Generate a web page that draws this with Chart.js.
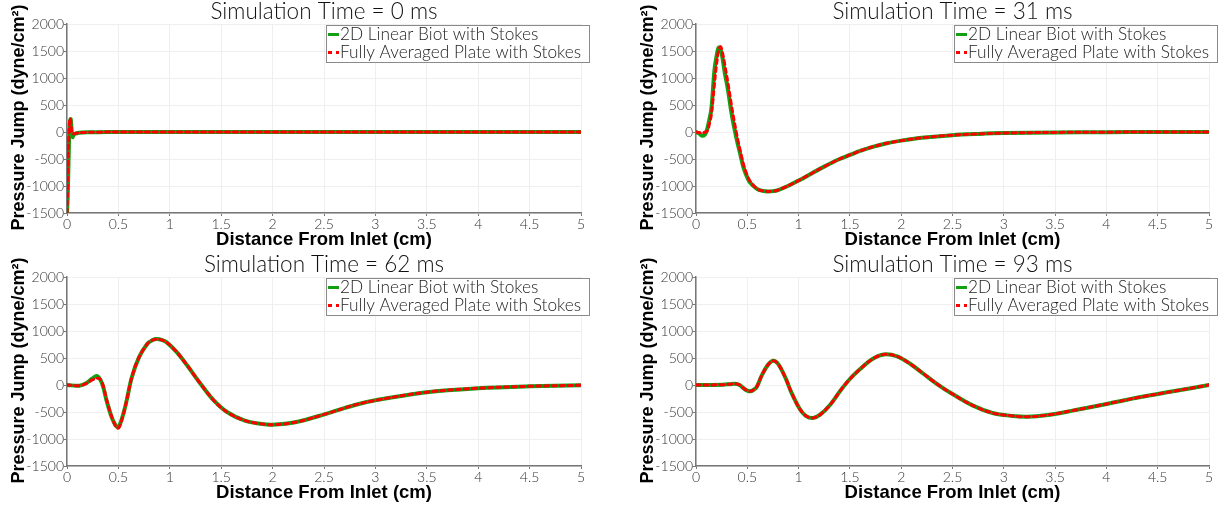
<!DOCTYPE html>
<html>
<head>
<meta charset="utf-8">
<script src="https://cdn.jsdelivr.net/npm/chart.js@4.4.1/dist/chart.umd.min.js"></script>
<style>
  body { margin: 0; background: #fff; }
  #wrap { position: relative; width: 1220px; height: 506px; overflow: hidden; }
  .panel { position: absolute; }
  canvas { display: block; }
</style>
</head>
<body>
<div id="wrap">
  <div class="panel" style="left:0;top:0"><canvas id="c0" width="629" height="253"></canvas></div>
  <div class="panel" style="left:629px;top:0"><canvas id="c1" width="591" height="253"></canvas></div>
  <div class="panel" style="left:0;top:253px"><canvas id="c2" width="629" height="253"></canvas></div>
  <div class="panel" style="left:629px;top:253px"><canvas id="c3" width="591" height="253"></canvas></div>
</div>
<script>
// distance from inlet (cm) and pressure jump (dyne/cm^2)

// t = 0 ms
const dist0 = [0, 0.006, 0.012, 0.018, 0.024, 0.03, 0.036, 0.042, 0.048, 0.054, 0.06, 0.07, 0.08, 0.1, 0.12, 0.15, 0.2, 0.3, 0.5, 1, 2, 3, 4, 5];
const biot0 = [-1500, -1250, -800, -300, 60, 200, 240, 120, -40, -95, -70, -40, -30, -22, -15, -10, -6, -3, -1, 0, 0, 0, 0, 0];
const plate0 = [-1500, -1000, -450, -50, 180, 255, 200, 60, -20, -35, -40, -35, -28, -20, -14, -10, -6, -3, -1, 0, 0, 0, 0, 0];

// t = 31 ms
const dist31 = [0, 0.03, 0.065, 0.09, 0.11, 0.13, 0.15, 0.18, 0.2, 0.22, 0.24, 0.26, 0.28, 0.31, 0.34, 0.36, 0.39, 0.41, 0.44, 0.46, 0.49, 0.52, 0.56, 0.6, 0.65, 0.7, 0.75, 0.8, 0.9, 1.0, 1.1, 1.24, 1.4, 1.5, 1.6, 1.73, 1.85, 2.0, 2.2, 2.5, 2.75, 3.0, 3.5, 4, 4.5, 5];
const biot31 = [0, -30, -70, -40, 60, 230, 430, 1150, 1400, 1560, 1520, 1350, 1100, 800, 420, 200, -80, -245, -480, -640, -800, -920, -1000, -1060, -1090, -1100, -1095, -1075, -995, -900, -795, -650, -500, -425, -350, -270, -212, -160, -108, -58, -35, -20, -8, -3, -1, 0];
const plate31 = [0, -10, -20, 0, 20, 150, 330, 900, 1250, 1500, 1580, 1450, 1250, 920, 560, 330, 20, -170, -420, -580, -760, -890, -990, -1060, -1090, -1100, -1095, -1075, -995, -900, -795, -650, -500, -425, -350, -270, -212, -160, -108, -58, -35, -20, -8, -3, -1, 0];

// t = 62 ms
const dist62 = [0, 0.12, 0.19, 0.24, 0.29, 0.32, 0.35, 0.385, 0.435, 0.47, 0.49, 0.51, 0.55, 0.58, 0.63, 0.7, 0.78, 0.83, 0.875, 0.92, 0.97, 1.07, 1.17, 1.3, 1.43, 1.56, 1.73, 1.89, 2.0, 2.22, 2.51, 2.8, 3.0, 3.5, 4.0, 4.5, 5.0];
const biot62 = [0, -12, 37, 111, 167, 110, -20, -290, -600, -740, -780, -750, -520, -290, 140, 510, 760, 830, 850, 835, 790, 605, 360, 20, -290, -505, -660, -720, -735, -690, -540, -370, -283, -133, -60, -24, -5];
const plate62 = [0, -12, 30, 90, 125, 115, 0, -270, -590, -750, -800, -775, -530, -290, 140, 510, 760, 830, 850, 835, 790, 605, 360, 20, -290, -505, -660, -720, -735, -690, -540, -370, -283, -133, -60, -24, -5];

// t = 93 ms
const dist93 = [0, 0.26, 0.33, 0.38, 0.42, 0.46, 0.5, 0.53, 0.56, 0.59, 0.64, 0.7, 0.75, 0.8, 0.87, 0.93, 1.01, 1.07, 1.14, 1.21, 1.31, 1.405, 1.5, 1.6, 1.72, 1.83, 1.96, 2.09, 2.22, 2.35, 2.5, 2.7, 2.89, 3.09, 3.23, 3.41, 3.67, 4.0, 4.32, 4.65, 5.0];
const biot93 = [0, 5, 15, 25, 5, -55, -105, -117, -90, -43, 173, 370, 450, 390, 140, -140, -440, -570, -610, -550, -360, -110, 111, 296, 481, 565, 530, 389, 204, 18, -167, -382, -518, -574, -588, -561, -475, -352, -228, -117, 0];
const plate93 = [0, 5, 15, 25, 5, -55, -105, -117, -90, -43, 173, 370, 450, 390, 140, -140, -440, -570, -610, -550, -360, -110, 111, 296, 481, 565, 530, 389, 204, 18, -167, -382, -518, -574, -588, -561, -475, -352, -228, -117, 0];

const titles = ['Simulation Time = 0 ms', 'Simulation Time = 31 ms', 'Simulation Time = 62 ms', 'Simulation Time = 93 ms'];
const yTickMin = -1500, yTickMax = 2000, yStep = 500;
const xTickMin = 0, xTickMax = 5, xStep = 0.5;

const panels = [
  [dist0, biot0, plate0],
  [dist31, biot31, plate31],
  [dist62, biot62, plate62],
  [dist93, biot93, plate93]
];

const LIGHT = 'Lato, "Open Sans", sans-serif';
const BOLD = '"Liberation Sans", Arial, sans-serif';

function pts(xs, ys) {
  return xs.map((x, i) => ({ x: x, y: ys[i] }));
}

// title, rotated y title and the boxed legend
const panelText = {
  id: 'panelText',
  afterDraw(chart, args, opts) {
    const { ctx, chartArea } = chart;
    ctx.save();
    ctx.fillStyle = '#111';
    ctx.font = '300 22.5px ' + LIGHT;
    ctx.textAlign = 'center';
    ctx.textBaseline = 'middle';
    ctx.fillText(opts.title, (chartArea.left + chartArea.right) / 2, 12);

    ctx.save();
    ctx.translate(19, (chartArea.top + chartArea.bottom) / 2 - 1);
    ctx.rotate(-Math.PI / 2);
    ctx.fillStyle = '#000';
    ctx.font = 'bold 18px ' + BOLD;
    ctx.fillText('Pressure Jump (dyne/cm²)', 0, 0);
    ctx.restore();

    const bw = 263, bh = 37;
    const bx = chartArea.right + 8 - bw, by = chartArea.top + 1;
    ctx.fillStyle = '#fff';
    ctx.fillRect(bx, by, bw, bh);
    ctx.strokeStyle = '#8a8a8a';
    ctx.lineWidth = 1;
    ctx.strokeRect(bx + 0.5, by + 0.5, bw, bh);
    ctx.font = '300 17.3px ' + LIGHT;
    ctx.textAlign = 'left';
    chart.data.datasets.forEach((ds, i) => {
      const y = by + 9.5 + i * 18;
      ctx.strokeStyle = ds.borderColor;
      ctx.lineWidth = 3;
      ctx.setLineDash(ds.borderDash || []);
      ctx.beginPath();
      ctx.moveTo(bx + 2, y);
      ctx.lineTo(bx + 13, y);
      ctx.stroke();
      ctx.setLineDash([]);
      ctx.fillStyle = '#222';
      ctx.fillText(ds.label, bx + 14, y);
    });
    ctx.restore();
  }
};

panels.forEach((p, i) => {
  const canvas = document.getElementById('c' + i);
  new Chart(canvas.getContext('2d'), {
    type: 'line',
    data: {
      datasets: [
        {
          label: '2D Linear Biot with Stokes',
          data: pts(p[0], p[1]),
          borderColor: '#14a014',
          borderWidth: 4,
          order: 1
        },
        {
          label: 'Fully Averaged Plate with Stokes',
          data: pts(p[0], p[2]),
          borderColor: '#ff0000',
          borderWidth: 3,
          borderDash: [4, 4],
          order: 0
        }
      ]
    },
    options: {
      responsive: false,
      animation: false,
      events: [],
      elements: {
        point: { radius: 0 },
        line: { tension: 0.35, fill: false, borderJoinStyle: 'round', borderCapStyle: 'round' }
      },
      layout: { padding: { left: 0, top: 24, right: canvas.width - 581 + (i % 2), bottom: 0 } },
      plugins: {
        legend: { display: false },
        tooltip: { enabled: false },
        panelText: { title: titles[i] }
      },
      scales: {
        x: {
          type: 'linear',
          min: xTickMin,
          max: xTickMax,
          afterFit: (s) => { s.height = 40; },
          ticks: {
            stepSize: xStep,
            autoSkip: false,
            maxRotation: 0,
            padding: 0,
            color: '#333',
            font: { family: LIGHT, size: 14, weight: 300 },
            callback: (v) => String(v)
          },
          grid: { color: '#efefef', tickColor: '#777', tickLength: 3 },
          border: { color: '#777', width: 1.5 },
          title: {
            display: true,
            text: 'Distance From Inlet (cm)',
            color: '#000',
            font: { family: BOLD, size: 18.5, weight: 'bold' },
            padding: { top: 0, bottom: 2 }
          }
        },
        y: {
          min: yTickMin,
          max: yTickMax,
          afterFit: (s) => { s.width = 67; },
          ticks: {
            stepSize: yStep,
            autoSkip: false,
            padding: 0,
            color: '#333',
            font: { family: LIGHT, size: 14, weight: 300 },
            callback: (v) => String(v)
          },
          grid: { color: '#efefef', tickColor: '#777', tickLength: 3 },
          border: { color: '#777', width: 1.5 }
        }
      }
    },
    plugins: [panelText]
  });
});
</script>
</body>
</html>
